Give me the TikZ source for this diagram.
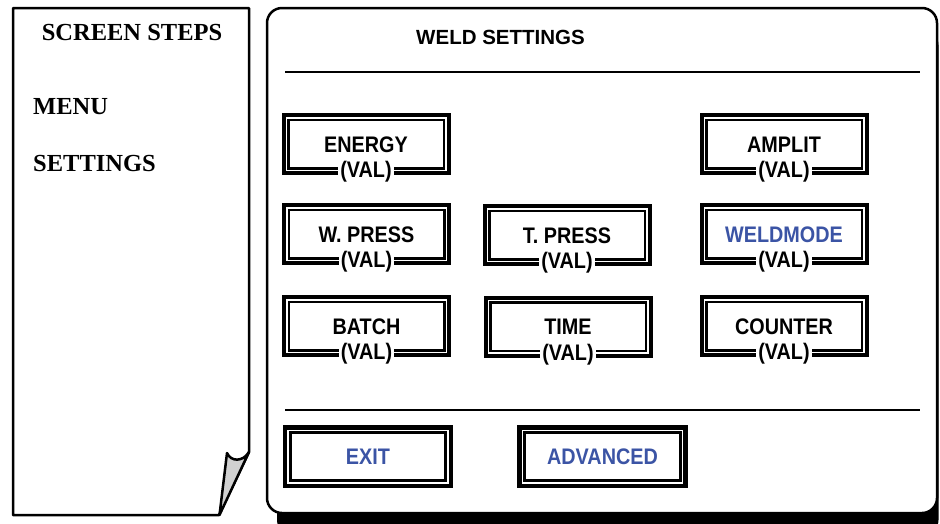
\documentclass[tikz,border=0pt]{standalone}
\usepackage{fontspec}
\setmainfont{Liberation Serif}
\newfontfamily\btnfont[FakeStretch=0.88]{Liberation Sans}
\newfontfamily\ttlfont{Liberation Sans}
\definecolor{btnblue}{RGB}{59,84,165}
\definecolor{curlgray}{RGB}{208,208,208}
\tikzset{
  sidetext/.style={font=\bfseries\fontsize{24.5}{28}\selectfont, inner sep=0pt},
  frameline/.style={draw=black, line width=2.5pt},
  sepline/.style={draw=black, line width=2pt},
  valbox/.style={draw=black, line width=4pt, fill=white, minimum width=165pt, minimum height=58pt, inner sep=0pt, outer sep=0pt},
  valinner/.style={draw=black, line width=2.5pt},
  bigbox/.style={draw=black, line width=4.5pt, fill=white, minimum width=166pt, minimum height=58.5pt, inner sep=0pt, outer sep=0pt},
  biginner/.style={draw=black, line width=3pt},
  lbl/.style={font=\btnfont\bfseries\fontsize{22.5}{26}\selectfont, inner sep=0pt, text height=16pt, text depth=0pt},
  vallbl/.style={font=\btnfont\bfseries\fontsize{22.5}{26}\selectfont, fill=white, inner xsep=2pt, inner ysep=1pt, anchor=base},
}
\begin{document}
\begin{tikzpicture}[x=1pt,y=-1pt]
\useasboundingbox (0,0) rectangle (940,523);
% shadow of right panel
\begin{scope}
  \clip (0,0) rectangle (940,523);
  \fill[black, rounded corners=15pt] (277,30) rectangle (938.5,535);
\end{scope}
% right panel
\draw[frameline, fill=white, rounded corners=15pt] (267,8) rectangle (937,513);
% left panel with page curl
\draw[frameline, fill=white, line join=round] (219,515) -- (13,515) -- (13,8) -- (249,8) -- (249,452) -- cycle;
\filldraw[frameline, fill=curlgray, line join=round] (249,452) -- (219.5,515) -- (227,453) .. controls (231,462) and (243,462) .. (249,452);
% left texts
\node[sidetext, anchor=base] (screensteps) at (132,40) {SCREEN STEPS};
\node[sidetext, anchor=base west] (menu) at (33,114) {MENU};
\node[sidetext, anchor=base west] (settings) at (33,171) {SETTINGS};
% title and separators
\node[font=\ttlfont\bfseries\fontsize{20.5}{24}\selectfont, inner sep=0pt, text height=14.5pt, text depth=0pt] (title) at (500.5,37) {WELD SETTINGS};
\coordinate (s1a) at (285,72); \coordinate (s1b) at (920,72);
\coordinate (s2a) at (285,410); \coordinate (s2b) at (920,410);
\draw[sepline] (s1a) -- (s1b);
\draw[sepline] (s2a) -- (s2b);
% value buttons
\foreach \n/\x/\y/\t/\c in {energy/366/144/ENERGY/black, amplit/784/144/AMPLIT/black,
    wpress/366.5/234/W. PRESS/black, tpress/567/235/T. PRESS/black, weldmode/784/234/WELDMODE/btnblue,
    batch/366.5/326/BATCH/black, time/568/326.5/TIME/black, counter/784/326/COUNTER/black}{
  \node[valbox] (\n) at (\x,\y) {};
  \draw[valinner] ([shift={(4.75,4.75)}]\n.north west) rectangle ([shift={(-4.75,-4.75)}]\n.south east);
  \node[lbl, text=\c] (\n-lbl) at (\n.center) {\t};
  \node[vallbl] (\n-val) at ([yshift=-4.5pt]\n.south) {(VAL)};
}
% action buttons
\foreach \n/\x/\t in {exit/368/EXIT, advanced/602.5/ADVANCED}{
  \node[bigbox] (\n) at (\x,456.5) {};
  \draw[biginner] ([shift={(5.25,5.25)}]\n.north west) rectangle ([shift={(-5.25,-5.25)}]\n.south east);
  \node[lbl, text=btnblue] (\n-lbl) at (\n.center) {\t};
}
\end{tikzpicture}
\end{document}
